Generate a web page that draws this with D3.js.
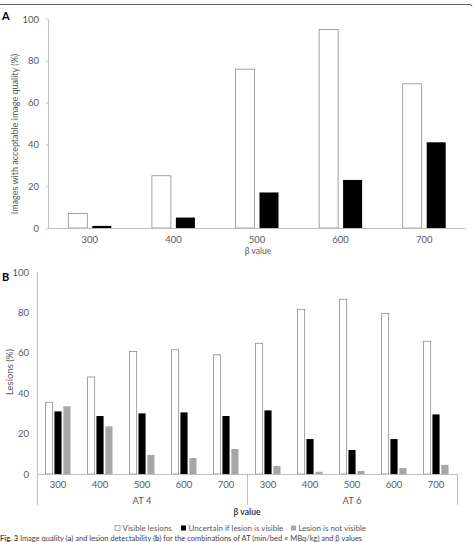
<!DOCTYPE html>
<html><head><meta charset="utf-8">
<script src="https://cdn.jsdelivr.net/npm/d3@7"></script>
<style>body{margin:0;background:#fff}svg{display:block}text{font-family:Lato,"Open Sans",sans-serif}</style>
</head><body>
<script>
// Panel A data
const betaA = ["300","400","500","600","700"];
const acceptable = [7, 25, 76, 95, 69];
const acceptableB = [1, 5, 17, 23, 41];
// Panel B data
const atGroups = ["AT 4","AT 6"];
const betaB = ["300","400","500","600","700"];
const visible = [35.5, 48, 60.7, 61.5, 59, 64.7, 81.5, 86.5, 79.5, 65.7];
const uncertain = [31, 28.7, 30, 30.5, 28.7, 31.5, 17.3, 11.9, 17.3, 29.5];
const notVisible = [33.5, 23.6, 9.4, 7.9, 12.4, 4, 1.1, 1.5, 3, 4.5];
const yTicks = [0, 20, 40, 60, 80, 100];
const legendLabels = ["Visible lesions", "Uncertain if lesion is visible", "Lesion is not visible"];

const W = 473, H = 542;
const svg = d3.select("body").append("svg").attr("width", W).attr("height", H);
const txt = "#595959", axisCol = "#bfbfbf";

// top rule
svg.append("line").attr("x1",0).attr("x2",471).attr("y1",4.5).attr("y2",4.5).attr("stroke","#666").attr("stroke-width",1);
svg.append("line").attr("x1",471).attr("x2",472).attr("y1",4.5).attr("y2",6.5).attr("stroke","#666").attr("stroke-width",1);

// ---------- Panel A ----------
svg.append("text").attr("x",2).attr("y",20).attr("font-size",11).attr("font-weight","bold").attr("font-family","Liberation Sans, Arial").text("A");
const xA = d3.scaleBand().domain(betaA).range([48,466]).padding(0);
const yA = d3.scaleLinear().domain([0,100]).range([228,19]);
const subA = d3.scaleBand().domain(["acc","unc"]).range([xA.bandwidth()/2-21.5, xA.bandwidth()/2+21.5]).paddingInner(0.208);
const gA = svg.append("g");
gA.selectAll("rect.a1").data(betaA).join("rect")
  .attr("x", d=>xA(d)+subA("acc")).attr("width", subA.bandwidth())
  .attr("y", (d,i)=>yA(acceptable[i])).attr("height",(d,i)=>yA(0)-yA(acceptable[i]))
  .attr("fill","#fff").attr("stroke","#8c8c8c").attr("stroke-width",0.8);
gA.selectAll("rect.a2").data(betaA).join("rect")
  .attr("x", d=>xA(d)+subA("unc")).attr("width", subA.bandwidth())
  .attr("y", (d,i)=>yA(acceptableB[i])).attr("height",(d,i)=>yA(0)-yA(acceptableB[i]))
  .attr("fill","#000");
const yAxA = svg.append("g").attr("transform","translate(48,0)").call(d3.axisLeft(yA).tickValues(yTicks).tickSize(2).tickPadding(7));
yAxA.select(".domain").attr("stroke",axisCol);
yAxA.selectAll(".tick line").attr("stroke",axisCol);
yAxA.selectAll(".tick text").attr("fill",txt).attr("font-size",9.5).attr("font-family","Lato");
svg.append("line").attr("x1",48).attr("x2",466).attr("y1",228.5).attr("y2",228.5).attr("stroke",axisCol);
svg.selectAll("text.xa").data(betaA).join("text").attr("class","xa")
  .attr("x", d=>xA(d)+xA.bandwidth()/2).attr("y",243).attr("text-anchor","middle")
  .attr("fill",txt).attr("font-size",9.5).text(d=>d);
svg.append("text").attr("x",258).attr("y",254).attr("text-anchor","middle").attr("fill",txt).attr("font-size",8.5).text("β value");
svg.append("text").attr("transform","translate(18,134) rotate(-90)").attr("text-anchor","middle").attr("fill",txt).attr("font-size",9).text("Images with acceptable image quality (%)");

// ---------- Panel B ----------
svg.append("text").attr("x",2).attr("y",281).attr("font-size",11).attr("font-weight","bold").attr("font-family","Liberation Sans, Arial").text("B");
const catsB = [];
atGroups.forEach(g=>betaB.forEach(b=>catsB.push(g+"|"+b)));
const xB = d3.scaleBand().domain(catsB).range([37,457]).padding(0);
const yB = d3.scaleLinear().domain([0,100]).range([474,272]);
const subB = d3.scaleBand().domain(["v","u","n"]).range([xB.bandwidth()/2-12.5, xB.bandwidth()/2+12.5]).paddingInner(0.2);
const seriesB = [
  {key:"v", vals:visible, fill:"#fff", stroke:"#8c8c8c"},
  {key:"u", vals:uncertain, fill:"#000", stroke:"none"},
  {key:"n", vals:notVisible, fill:"#a6a6a6", stroke:"none"}
];
seriesB.forEach(s=>{
  svg.append("g").selectAll("rect").data(catsB).join("rect")
    .attr("x", d=>xB(d)+subB(s.key)).attr("width", subB.bandwidth())
    .attr("y", (d,i)=>yB(s.vals[i])).attr("height",(d,i)=>yB(0)-yB(s.vals[i]))
    .attr("fill", s.fill).attr("stroke", s.stroke).attr("stroke-width",0.8);
});
const yAxB = svg.append("g").attr("transform","translate(37,0)").call(d3.axisLeft(yB).tickValues(yTicks).tickSize(0).tickPadding(8));
yAxB.select(".domain").remove();
yAxB.selectAll(".tick text").attr("fill",txt).attr("font-size",9.5);
svg.append("line").attr("x1",37.5).attr("x2",37.5).attr("y1",272).attr("y2",505).attr("stroke",axisCol);
svg.append("line").attr("x1",37).attr("x2",457).attr("y1",474.5).attr("y2",474.5).attr("stroke",axisCol);
[247.5, 457.5].forEach(x=>svg.append("line").attr("x1",x).attr("x2",x).attr("y1",474).attr("y2",505).attr("stroke",axisCol));
svg.selectAll("text.xb").data(catsB).join("text").attr("class","xb")
  .attr("x", d=>xB(d)+xB.bandwidth()/2).attr("y",487.5).attr("text-anchor","middle")
  .attr("fill",txt).attr("font-size",9.5).text(d=>d.split("|")[1]);
atGroups.forEach(g=>{
  const first = xB(g+"|"+betaB[0]), last = xB(g+"|"+betaB[betaB.length-1])+xB.bandwidth();
  svg.append("text").attr("x",(first+last)/2).attr("y",503.5).attr("text-anchor","middle").attr("fill",txt).attr("font-size",9.5).text(g);
});
svg.append("text").attr("x",247).attr("y",514.5).attr("text-anchor","middle").attr("fill","#404040").attr("font-size",8.5).attr("font-weight","bold").text("β value");
svg.append("text").attr("transform","translate(13,372) rotate(-90)").attr("text-anchor","middle").attr("fill",txt).attr("font-size",9.5).text("Lesions (%)");

// legend
const legX = [115, 181, 291];
legendLabels.forEach((l,i)=>{
  svg.append("rect").attr("x",legX[i]).attr("y",525.5).attr("width",5).attr("height",5)
    .attr("fill",seriesB[i].fill).attr("stroke",i===0?"#8c8c8c":"none").attr("stroke-width",0.7);
  svg.append("text").attr("x",legX[i]+7.5).attr("y",531).attr("fill",txt).attr("font-size",8).text(l);
});

// caption
const cap = svg.append("text").attr("x",0).attr("y",541).attr("font-size",7.5).attr("fill","#444");
cap.append("tspan").attr("font-weight","bold").text("Fig. 3 ");
cap.append("tspan").text("Image quality (");
cap.append("tspan").attr("font-weight","bold").text("a");
cap.append("tspan").text(") and lesion detectability (");
cap.append("tspan").attr("font-weight","bold").text("b");
cap.append("tspan").text(") for the combinations of AT (min/bed × MBq/kg) and β values");
</script>
</body></html>
